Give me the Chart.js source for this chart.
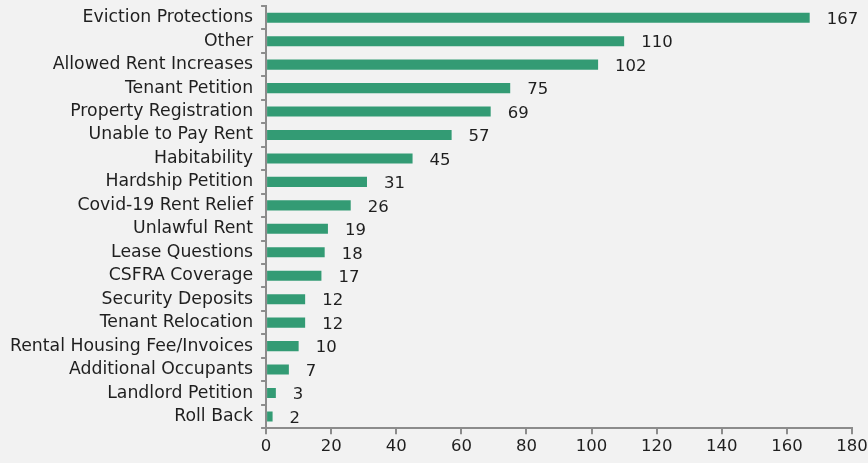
<!DOCTYPE html>
<html>
<head>
<meta charset="utf-8">
<script src="https://cdn.jsdelivr.net/npm/chart.js@4.4.0/dist/chart.umd.min.js"></script>
<style>
  html, body { margin: 0; padding: 0; background: #f2f2f2; }
  #wrap { width: 868px; height: 463px; }
</style>
</head>
<body>
<div id="wrap"><canvas id="topicsChart" width="868" height="463"></canvas></div>
<script>
// categories and counts, top to bottom
const topics = [
    'Eviction Protections', 'Other', 'Allowed Rent Increases', 'Tenant Petition',
    'Property Registration', 'Unable to Pay Rent', 'Habitability', 'Hardship Petition',
    'Covid-19 Rent Relief', 'Unlawful Rent', 'Lease Questions', 'CSFRA Coverage',
    'Security Deposits', 'Tenant Relocation', 'Rental Housing Fee/Invoices',
    'Additional Occupants', 'Landlord Petition', 'Roll Back'
];
const counts = [167, 110, 102, 75, 69, 57, 45, 31, 26, 19, 18, 17, 12, 12, 10, 7, 3, 2];
const xTicks = [0, 20, 40, 60, 80, 100, 120, 140, 160, 180];

const fontFamily = '"DejaVu Sans", sans-serif';
const axisGray = '#8c8c8c';
const textColor = '#1f1f1f';

// value labels at the end of each bar
const valueLabels = {
    id: 'valueLabels',
    afterDatasetsDraw(chart) {
        const { ctx } = chart;
        const meta = chart.getDatasetMeta(0);
        ctx.save();
        ctx.fillStyle = textColor;
        ctx.font = '16.5px ' + fontFamily;
        ctx.textAlign = 'left';
        ctx.textBaseline = 'middle';
        meta.data.forEach((bar, i) => {
            ctx.fillText(String(counts[i]), bar.x + 17, bar.y + 2);
        });
        ctx.restore();
    }
};

const ctx = document.getElementById('topicsChart').getContext('2d');
new Chart(ctx, {
    type: 'bar',
    data: {
        labels: topics,
        datasets: [{
            data: counts,
            backgroundColor: '#339b74',
            borderWidth: 0,
            barPercentage: 0.43,
            categoryPercentage: 1.0
        }]
    },
    options: {
        indexAxis: 'y',
        responsive: false,
        animation: false,
        layout: { padding: { top: 6, right: 16, bottom: 3, left: 2 } },
        plugins: {
            legend: { display: false },
            tooltip: { enabled: false }
        },
        scales: {
            x: {
                min: 0,
                max: 180,
                afterBuildTicks(axis) {
                    axis.ticks = xTicks.map(v => ({ value: v }));
                },
                afterFit(axis) {
                    axis.paddingLeft = 0;
                    axis.paddingRight = 0;
                },
                border: { display: true, color: axisGray, width: 2 },
                grid: { drawOnChartArea: false, drawTicks: true, tickLength: 6, color: axisGray, lineWidth: 2 },
                ticks: { color: textColor, font: { family: fontFamily, size: 16.5 }, padding: 3 }
            },
            y: {
                afterFit(axis) {
                    axis.paddingTop = 0;
                    axis.paddingBottom = 0;
                },
                border: { display: true, color: axisGray, width: 2 },
                grid: { drawOnChartArea: false, drawTicks: true, tickLength: 5, color: axisGray, lineWidth: 2, offset: true },
                ticks: { color: textColor, font: { family: fontFamily, size: 17.3 }, padding: 8, autoSkip: false }
            }
        }
    },
    plugins: [valueLabels]
});
</script>
</body>
</html>
